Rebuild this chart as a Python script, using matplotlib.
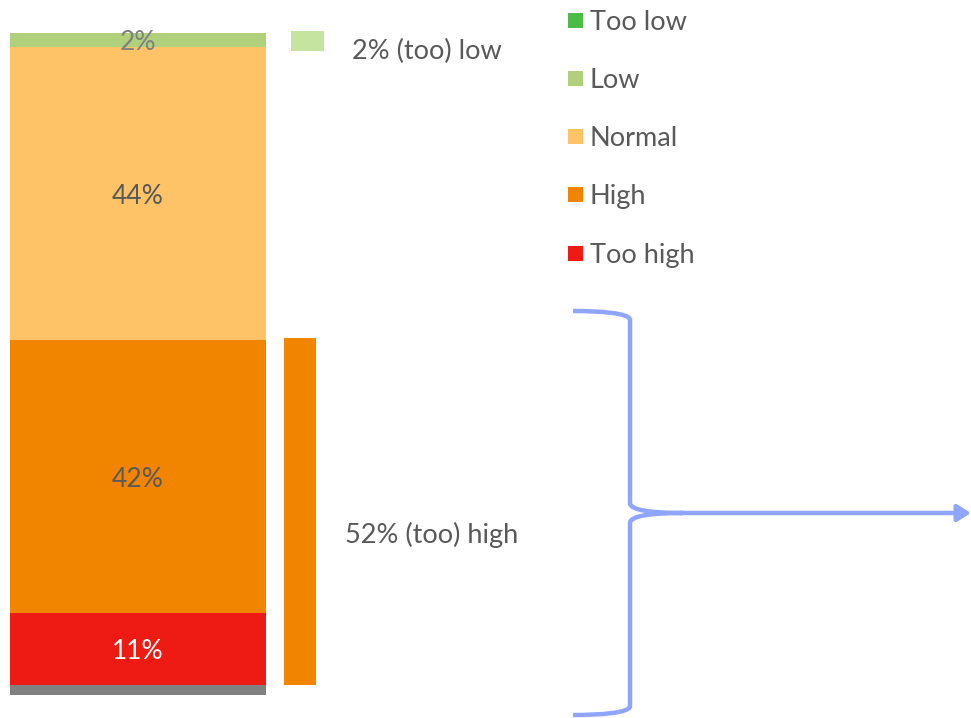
import matplotlib
matplotlib.use("Agg")
import matplotlib.pyplot as plt
from matplotlib.path import Path
from matplotlib.patches import PathPatch, FancyArrowPatch

plt.rcParams['font.family'] = ['Lato', 'DejaVu Sans']

# stacked shares, bottom to top (gray = no answer, unlabeled)
segments = ["No answer", "Too high", "High", "Normal", "Low", "Too low"]
shares = [1.5, 10.9, 41.2, 44.3, 2.1, 0.0]
seg_labels = ["", "11%", "42%", "44%", "2%", ""]
seg_colors = ["#808080", "#ee1a14", "#f28500", "#fec267", "#b0d07c", "#4bbd47"]
label_colors = ["#595959", "white", "#595959", "#595959", "#808080", "#595959"]

legend_names = ["Too low", "Low", "Normal", "High", "Too high"]
legend_colors = ["#4bbd47", "#b0d07c", "#fec267", "#f28500", "#ee1a14"]

high_share = 52.4
high_text = "52% (too) high"
low_share = 3.0
low_text = "2% (too) low"

W, H = 971, 718
fig = plt.figure(figsize=(W / 100, H / 100), dpi=100)
ax = fig.add_axes([0, 0, 1, 1])
px = 6.62  # pixels per percent
ax.set_xlim(0, W)
ax.set_ylim(-(H - 695) / px, 695 / px)
ax.axis("off")

bottom = 0.0
for name, v, lab, c, lc in zip(segments, shares, seg_labels, seg_colors, label_colors):
    ax.bar(138, v, width=256, bottom=bottom, color=c, linewidth=0)
    if lab:
        ax.text(138, bottom + v / 2 - 0.4, lab, ha="center", va="center",
                fontsize=19, color=lc)
    bottom += v

# summary bars
ax.bar(300, high_share, width=32, bottom=shares[0], color="#f28500", linewidth=0)
ax.text(345, 24.2, high_text, ha="left", va="center",
        fontsize=19.5, color="#595959")
ax.bar(307, low_share, width=33, bottom=97.3, color="#c5e4a0", linewidth=0)
ax.text(352, 97.2, low_text, ha="left", va="center", fontsize=19.5, color="#595959")

# legend drawn in pixel space
ov = fig.add_axes([0, 0, 1, 1])
ov.set_xlim(0, W)
ov.set_ylim(H, 0)
ov.axis("off")
ov.patch.set_alpha(0)
for i, (n, c) in enumerate(zip(legend_names, legend_colors)):
    y = 20 + i * 58.3
    ov.add_patch(plt.Rectangle((568, y - 7.5), 15, 15, color=c, linewidth=0))
    ov.text(590, y + 2, n, ha="left", va="center", fontsize=19.5, color="#595959")

# brace + arrow
blue = "#8fa5ff"
verts = [(573, 311), (600, 311), (630, 313), (630, 320),
         (630, 503),
         (630, 510), (650, 513), (683, 513)]
codes = [Path.MOVETO, Path.CURVE4, Path.CURVE4, Path.CURVE4,
         Path.LINETO,
         Path.CURVE4, Path.CURVE4, Path.CURVE4]
ov.add_patch(PathPatch(Path(verts, codes), fill=False, ec=blue, lw=3.2,
                       capstyle="butt"))
verts2 = [(683, 513), (650, 513), (630, 516), (630, 523),
          (630, 706),
          (630, 713), (600, 715), (573, 715)]
ov.add_patch(PathPatch(Path(verts2, codes), fill=False, ec=blue, lw=3.2,
                       capstyle="butt"))
ov.add_patch(FancyArrowPatch((680, 513), (971, 513),
                             arrowstyle="-|>,head_length=4,head_width=2.5",
                             color=blue, lw=3.2, mutation_scale=2,
                             shrinkA=0, shrinkB=0))

fig.savefig("out.png", dpi=100)
